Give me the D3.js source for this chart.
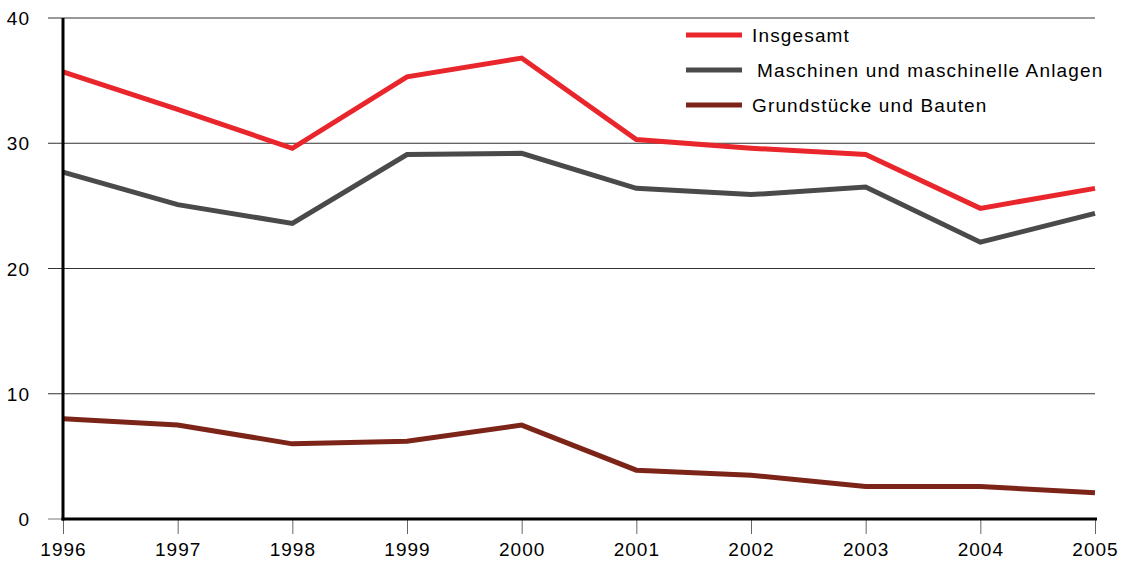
<!DOCTYPE html>
<html>
<head>
<meta charset="utf-8">
<script src="https://cdn.jsdelivr.net/npm/d3@7"></script>
<style>
  body { margin: 0; background: #fff; }
  text { font-family: "Liberation Sans", Arial, sans-serif; }
</style>
</head>
<body>
<svg width="1122" height="568"></svg>
<script>
// Daten
const years = [1996, 1997, 1998, 1999, 2000, 2001, 2002, 2003, 2004, 2005];
const insgesamt = [35.7, 32.7, 29.6, 35.3, 36.8, 30.3, 29.6, 29.1, 24.8, 26.4];
const maschinen = [27.7, 25.1, 23.6, 29.1, 29.2, 26.4, 25.9, 26.5, 22.1, 24.4];
const bauten = [8.0, 7.5, 6.0, 6.2, 7.5, 3.9, 3.5, 2.6, 2.6, 2.1];
const yTicks = [0, 10, 20, 30, 40];

const series = [
    { name: "Insgesamt", values: insgesamt, color: "#e8262b" },
    { name: "Maschinen und maschinelle Anlagen", values: maschinen, color: "#4a4a4a" },
    { name: "Grundstücke und Bauten", values: bauten, color: "#7d2419" }
];

const svg = d3.select("svg");

const x = d3.scaleLinear().domain([1996, 2005]).range([63, 1095]);
const y = d3.scaleLinear().domain([0, 40]).range([519, 18]);

// Gitterlinien
svg.append("g")
    .selectAll("line")
    .data(yTicks.filter(d => d > 0))
    .join("line")
    .attr("x1", 48)
    .attr("x2", 1095)
    .attr("y1", d => y(d))
    .attr("y2", d => y(d))
    .attr("stroke", "#333")
    .attr("stroke-width", 1);

// Y-Achse Beschriftung
svg.append("g")
    .selectAll("text")
    .data(yTicks)
    .join("text")
    .attr("x", 30)
    .attr("y", d => y(d) + 7)
    .attr("text-anchor", "end")
    .attr("font-size", 19)
    .attr("letter-spacing", 1)
    .attr("fill", "#000")
    .text(d => d);

svg.append("line")
    .attr("x1", 48).attr("x2", 63)
    .attr("y1", y(0)).attr("y2", y(0))
    .attr("stroke", "#777").attr("stroke-width", 1);

// X-Achse
const xAxis = d3.axisBottom(x)
    .tickValues(years)
    .tickFormat(d3.format("d"))
    .tickSize(15)
    .tickPadding(9);

const gx = svg.append("g")
    .attr("transform", `translate(0,${y(0)})`)
    .call(xAxis);
gx.select(".domain").remove();
gx.selectAll(".tick line").attr("stroke", "#666");
gx.selectAll(".tick text")
    .attr("font-size", 19)
    .attr("letter-spacing", 1)
    .attr("font-family", "Liberation Sans, Arial, sans-serif")
    .attr("fill", "#000");

// Linien
const line = d3.line()
    .x((d, i) => x(years[i]))
    .y(d => y(d));

svg.append("g")
    .selectAll("path")
    .data(series)
    .join("path")
    .attr("d", d => line(d.values))
    .attr("fill", "none")
    .attr("stroke", d => d.color)
    .attr("stroke-width", 5)
    .attr("stroke-linejoin", "miter");

// Achsenlinien
svg.append("line")
    .attr("x1", 63).attr("x2", 63)
    .attr("y1", y(40)).attr("y2", y(0) + 1.5)
    .attr("stroke", "#000").attr("stroke-width", 3);
svg.append("line")
    .attr("x1", 61.5).attr("x2", 1097)
    .attr("y1", y(0)).attr("y2", y(0))
    .attr("stroke", "#000").attr("stroke-width", 3);

// Legende
const legend = svg.append("g")
    .selectAll("g")
    .data(series)
    .join("g")
    .attr("transform", (d, i) => `translate(686,${35 + i * 35})`);

legend.append("line")
    .attr("x1", 0).attr("x2", 56)
    .attr("stroke", d => d.color)
    .attr("stroke-width", 5);

legend.append("text")
    .attr("x", (d, i) => i === 1 ? 71 : 66)
    .attr("y", 7)
    .attr("font-size", 19)
    .attr("letter-spacing", 1.15)
    .attr("fill", "#000")
    .text(d => d.name);
</script>
</body>
</html>
